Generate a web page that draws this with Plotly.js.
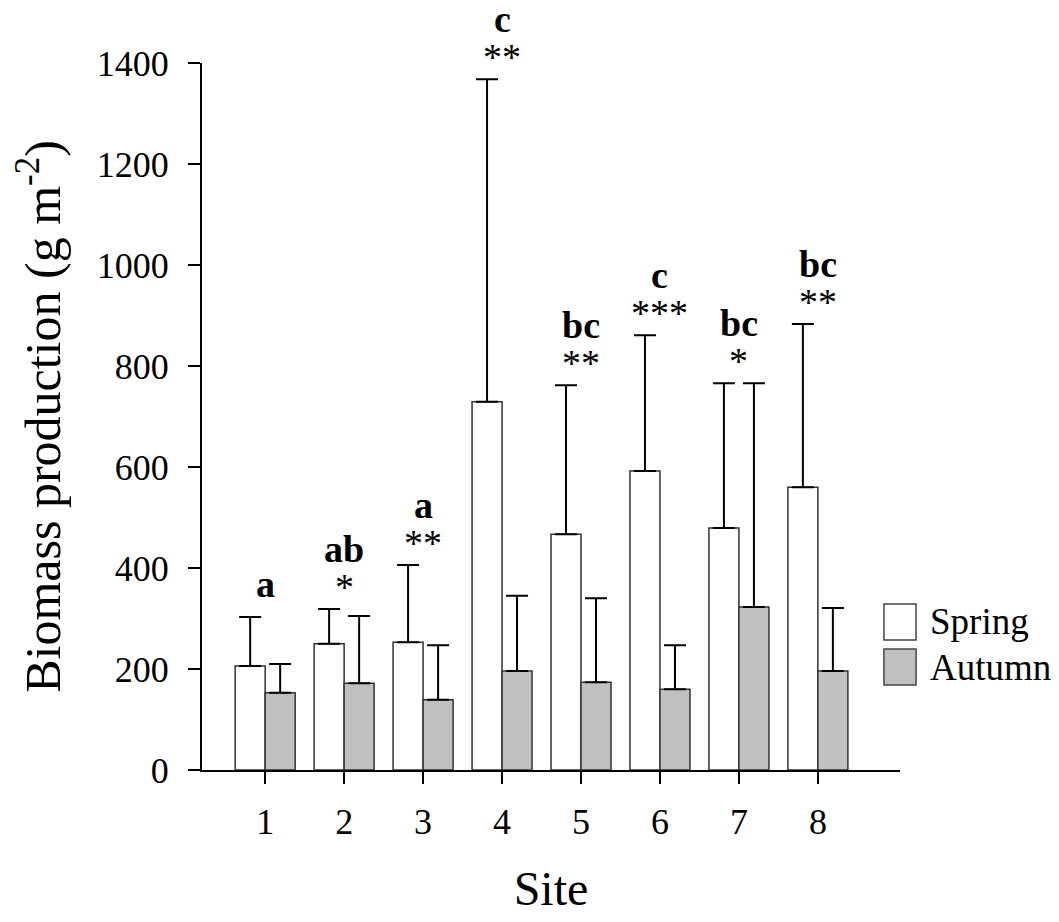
<!DOCTYPE html>
<html>
<head>
<meta charset="utf-8">
<script src="https://cdn.plot.ly/plotly-3.0.1.min.js"></script>
<style>
  html, body { margin: 0; padding: 0; background: #fff; }
  #chart { width: 1059px; height: 922px; }
</style>
</head>
<body>
<div id="chart"></div>
<script>
// ---- data ----
const sites = [1, 2, 3, 4, 5, 6, 7, 8];
const seriesNames = ['Spring', 'Autumn'];
const springMean = [206, 250, 253, 729, 467, 592, 479, 560];
const springSD   = [97, 69, 153, 639, 295, 269, 287, 323];
const autumnMean = [153, 172, 139, 196, 174, 160, 323, 196];
const autumnSD   = [57, 133, 108, 149, 166, 87, 443, 125];
const letters = ['a', 'ab', 'a', 'c', 'bc', 'c', 'bc', 'bc'];
const stars   = ['', '*', '**', '**', '**', '***', '*', '**'];
const yTicks = [0, 200, 400, 600, 800, 1000, 1200, 1400];

const FONT = '"Liberation Serif", "Times New Roman", Times, serif';
const zeros = sites.map(() => 0);

const springTrace = {
  type: 'bar', name: seriesNames[0], x: sites, y: springMean,
  marker: { color: '#ffffff', line: { color: '#333333', width: 1.5 } },
  error_y: { type: 'data', symmetric: false, array: springSD, arrayminus: zeros,
             color: '#000000', thickness: 2, width: 11 },
  showlegend: false, hoverinfo: 'x+y'
};
const autumnTrace = {
  type: 'bar', name: seriesNames[1], x: sites, y: autumnMean,
  marker: { color: '#c0c0c0', line: { color: '#333333', width: 1.5 } },
  error_y: { type: 'data', symmetric: false, array: autumnSD, arrayminus: zeros,
             color: '#000000', thickness: 2, width: 11 },
  showlegend: false, hoverinfo: 'x+y'
};

// annotations above the taller error bar of each site
const annotations = [];
sites.forEach((s, i) => {
  const top = Math.max(springMean[i] + springSD[i], autumnMean[i] + autumnSD[i]);
  const hasStars = stars[i].length > 0;
  if (hasStars) {
    annotations.push({
      x: s, y: top, xref: 'x', yref: 'y', text: stars[i], showarrow: false,
      xanchor: 'center', yanchor: 'bottom', yshift: -1,
      font: { family: FONT, size: 38, color: '#000' }
    });
  }
  annotations.push({
    x: s, y: top, xref: 'x', yref: 'y', text: '<b>' + letters[i] + '</b>', showarrow: false,
    xanchor: 'center', yanchor: 'bottom', yshift: hasStars ? 38 : 11, borderpad: 0,
    font: { family: FONT, size: 38, color: '#000' }
  });
});

// custom legend (large swatches)
const legendFills = ['#ffffff', '#c0c0c0'];
const legendBoxes = [[0.2348, 0.1839], [0.1711, 0.1202]];
const legendTextY = [0.2107, 0.1443];
const shapes = [];
seriesNames.forEach((nm, i) => {
  shapes.push({
    type: 'rect', xref: 'paper', yref: 'paper',
    x0: 0.977, x1: 1.023, y0: legendBoxes[i][1], y1: legendBoxes[i][0],
    fillcolor: legendFills[i], line: { color: '#444444', width: 1.5 }
  });
  annotations.push({
    x: 1.040, y: legendTextY[i], xref: 'paper', yref: 'paper', text: nm,
    showarrow: false, xanchor: 'left', yanchor: 'middle',
    font: { family: FONT, size: 37, color: '#000' }
  });
});

const layout = {
  width: 1059, height: 922,
  margin: { l: 202, r: 159, t: 63, b: 152, pad: 0 },
  paper_bgcolor: '#ffffff', plot_bgcolor: '#ffffff',
  font: { family: FONT, color: '#000' },
  barmode: 'group', bargap: 0.24, bargroupgap: 0,
  showlegend: false,
  xaxis: {
    range: [0.2, 9.04], tickvals: sites, ticktext: sites.map(String),
    showgrid: false, zeroline: false, showline: true, linecolor: '#000', linewidth: 2,
    ticks: 'outside', ticklen: 12, tickwidth: 2, tickcolor: '#000',
    tickfont: { family: FONT, size: 36, color: '#000' }, ticklabelstandoff: 7,
    title: { text: 'Site', font: { family: FONT, size: 48, color: '#000' }, standoff: 30 },
    fixedrange: true
  },
  yaxis: {
    range: [0, 1400], tickvals: yTicks, ticktext: yTicks.map(String),
    showgrid: false, zeroline: false, showline: true, linecolor: '#000', linewidth: 2,
    ticks: 'outside', ticklen: 12, tickwidth: 2, tickcolor: '#000',
    tickfont: { family: FONT, size: 36, color: '#000' }, ticklabelstandoff: 12,
    title: { text: 'Biomass production (g m<sup>-2</sup>)', font: { family: FONT, size: 50, color: '#000' }, standoff: 20 },
    fixedrange: true
  },
  annotations: annotations,
  shapes: shapes
};

Plotly.newPlot('chart', [springTrace, autumnTrace], layout, { staticPlot: true, displayModeBar: false });
</script>
</body>
</html>
